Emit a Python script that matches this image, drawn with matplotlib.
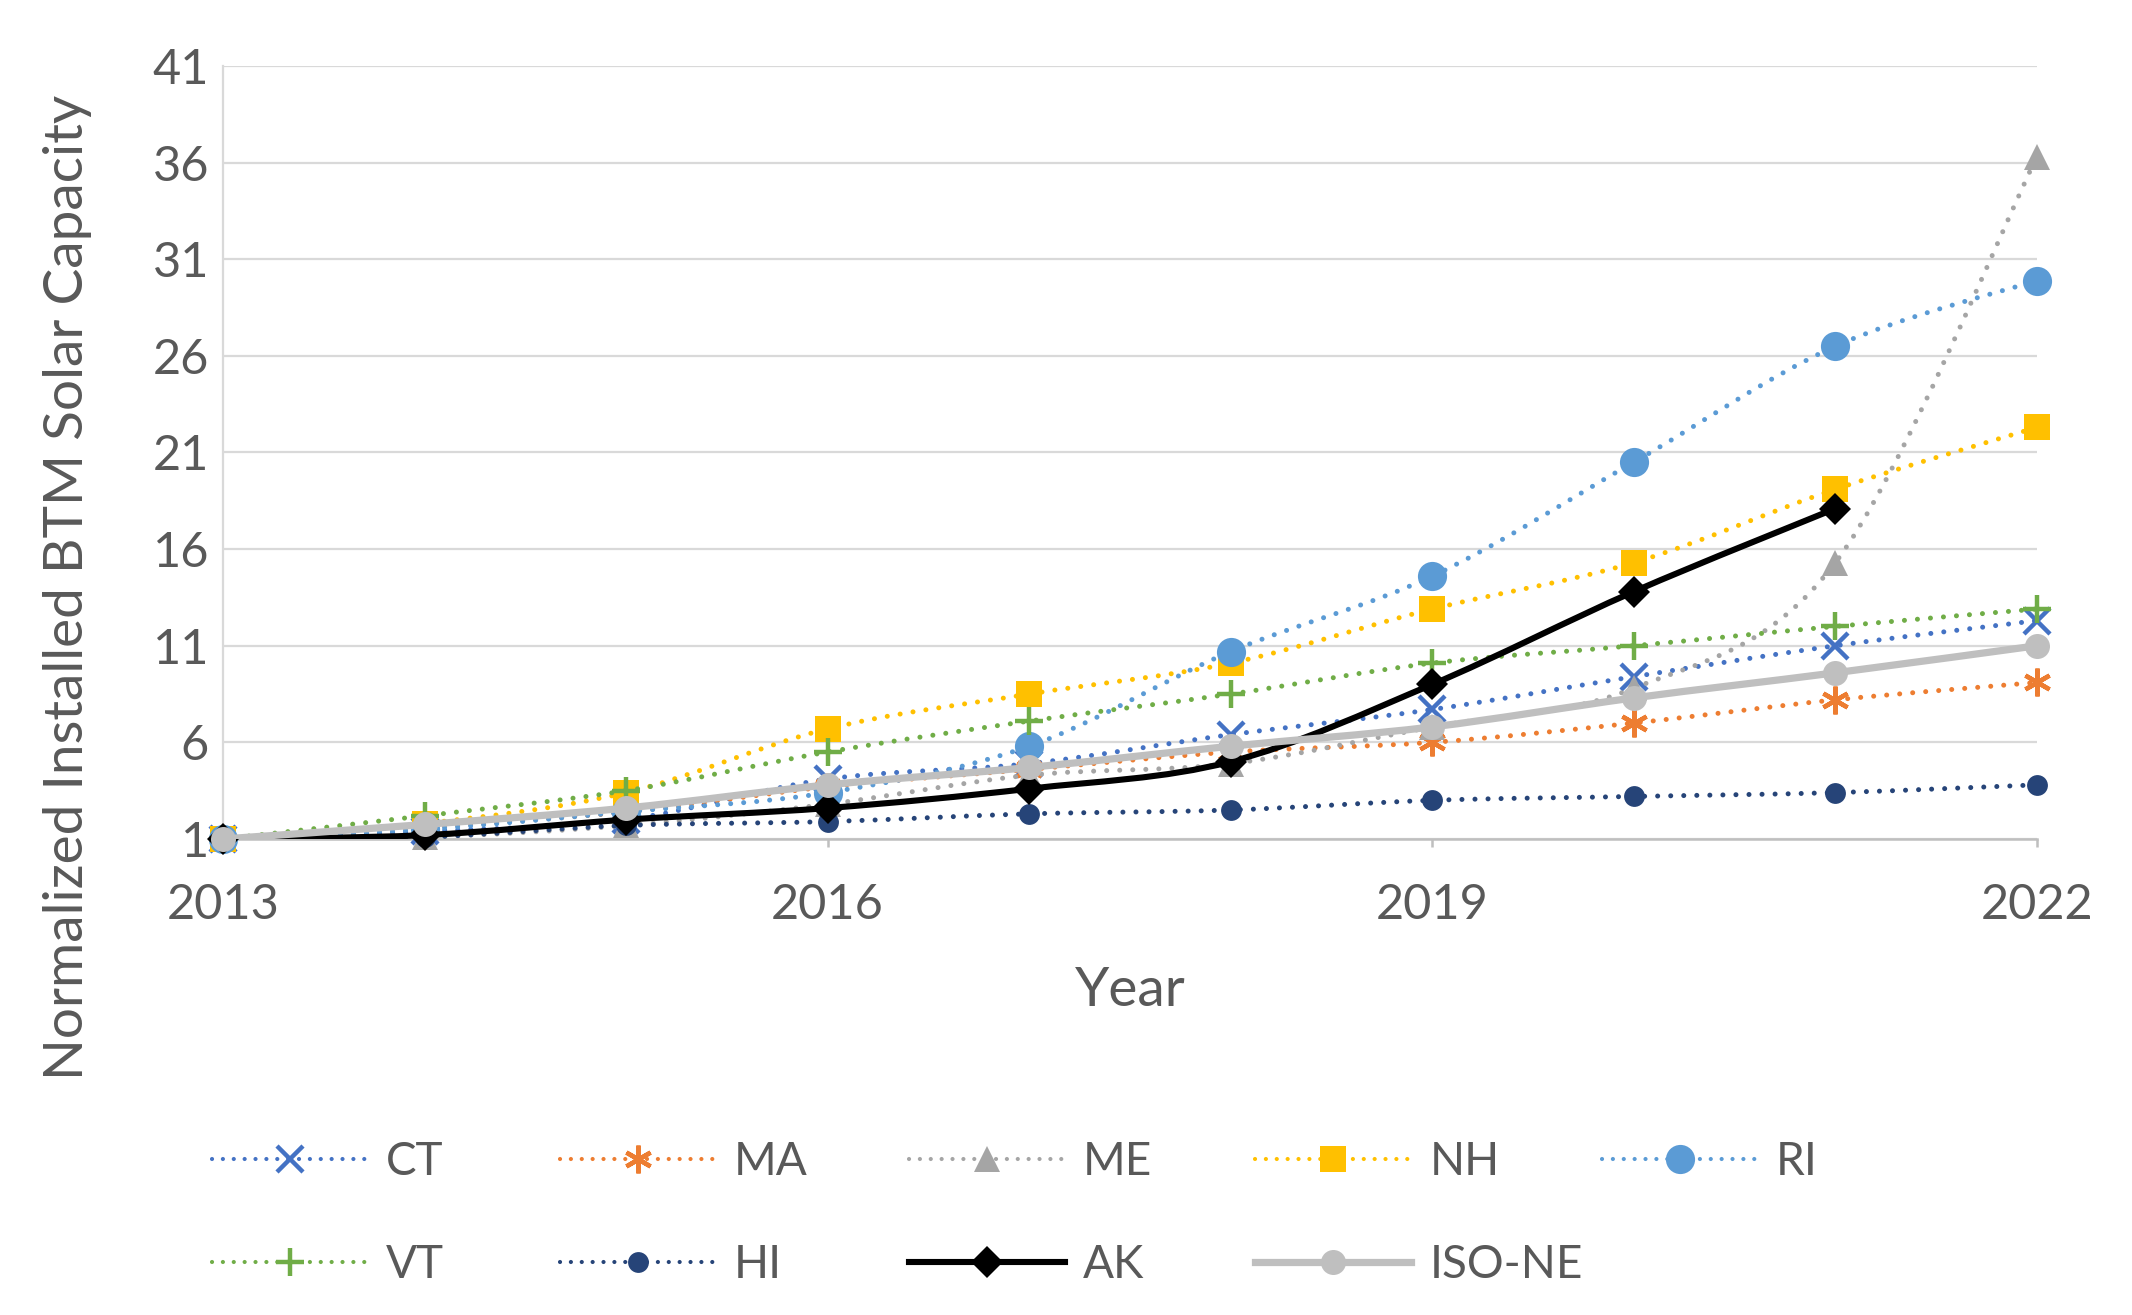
import numpy as np
import matplotlib
matplotlib.use('Agg')
import matplotlib.pyplot as plt
from matplotlib.path import Path
from matplotlib.patches import PathPatch
from matplotlib.lines import Line2D

plt.rcParams['font.family'] = ['Lato', 'DejaVu Sans']

years = list(range(2013, 2023))
ct = [1, 1.4, 2.0, 4.1, 4.9, 6.4, 7.7, 9.4, 11.0, 12.3]
ma = [1, 1.6, 2.4, 3.7, 4.6, 5.5, 6.0, 7.0, 8.2, 9.1]
me = [1, 1.1, 1.7, 2.8, 4.3, 4.9, 6.8, 8.8, 15.3, 36.3]
nh = [1, 1.8, 3.4, 6.7, 8.5, 10.1, 12.9, 15.3, 19.1, 22.3]
ri = [1, 1.5, 2.4, 3.4, 5.8, 10.7, 14.6, 20.5, 26.5, 29.9]
vt = [1, 2.2, 3.5, 5.5, 7.1, 8.5, 10.1, 11.0, 12.0, 12.9]
hi = [1, 1.1, 1.7, 1.9, 2.3, 2.5, 3.0, 3.2, 3.4, 3.8]
ak = [1, 1.2, 2.0, 2.6, 3.6, 5.0, 9.0, 13.8, 18.1, np.nan]   # no 2022 value
iso_ne = [1, 1.75, 2.6, 3.8, 4.7, 5.8, 6.8, 8.3, 9.6, 11.0]

y_ticks = [1, 6, 11, 16, 21, 26, 31, 36, 41]
x_ticks = [2013, 2016, 2019, 2022]

DOT = (0, (0.01, 2.6))   # round dots via round caps
# name, values, color, line width, line style, marker, marker size, marker edge width
series = [
    ('CT', ct, '#4472C4', 1.8, DOT, 'x', 9.5, 1.6),
    ('MA', ma, '#ED7D31', 1.8, DOT, (6, 2, 0), 10, 1.6),
    ('ME', me, '#A5A5A5', 1.8, DOT, '^', 9.5, 0),
    ('NH', nh, '#FFC000', 1.8, DOT, 's', 9.5, 0),
    ('RI', ri, '#5B9BD5', 1.8, DOT, 'o', 10.5, 0),
    ('VT', vt, '#70AD47', 1.8, DOT, '+', 10, 1.6),
    ('HI', hi, '#264478', 1.8, DOT, 'o', 7.5, 0),
    ('AK', ak, '#000000', 2.2, '-', 'D', 8, 0),
    ('ISO-NE', iso_ne, '#BFBFBF', 2.6, '-', 'o', 9, 0),
]


def smooth_path(x, y):
    """Bezier path through the points, Excel 'smoothed line' style."""
    pts = [np.array([a, b], float) for a, b in zip(x, y) if not np.isnan(b)]
    n = len(pts)
    verts = [tuple(pts[0])]
    codes = [Path.MOVETO]
    for i in range(n - 1):
        p0 = pts[max(i - 1, 0)]
        p1 = pts[i]
        p2 = pts[i + 1]
        p3 = pts[min(i + 2, n - 1)]
        c1 = p1 + (p2 - p0) / 6
        c2 = p2 - (p3 - p1) / 6
        verts += [tuple(c1), tuple(c2), tuple(p2)]
        codes += [Path.CURVE4] * 3
    return Path(verts, codes)


fig = plt.figure(figsize=(10.66, 6.575), dpi=200)
ax = fig.add_axes([0.1046, 0.362, 0.8508, 0.5878])

text_color = '#595959'
grid_color = '#D9D9D9'

handles = []
for i, (name, vals, c, lw, ls, mk, ms, mew) in enumerate(series):
    z = 3 + i * 0.1
    patch = PathPatch(smooth_path(years, vals), facecolor='none', edgecolor=c,
                      lw=lw, linestyle=ls, zorder=z,
                      capstyle='round' if ls == DOT else 'butt')
    ax.add_patch(patch)
    ax.plot(years, vals, linestyle='none', marker=mk, markersize=ms,
            color=c, markeredgecolor=c, markeredgewidth=mew, zorder=z + 0.05,
            clip_on=False)
    h = Line2D([], [], color=c, lw=lw if ls == '-' else 1.5, linestyle=ls,
               marker=mk, markersize=ms, markeredgecolor=c, markeredgewidth=mew,
               dash_capstyle='round')
    handles.append(h)

ax.set_xlim(2013, 2022)
ax.set_ylim(1, 41)
ax.set_xticks(x_ticks)
ax.set_yticks(y_ticks)
ax.grid(axis='y', color=grid_color, lw=0.8, zorder=0)
ax.set_axisbelow(True)

for s in ['top', 'right']:
    ax.spines[s].set_visible(False)
ax.spines['left'].set_color(grid_color)
ax.spines['left'].set_linewidth(0.8)
ax.spines['bottom'].set_color('#BFBFBF')
ax.spines['bottom'].set_linewidth(0.9)

ax.tick_params(axis='y', length=0, pad=5, labelsize=17.5, labelcolor=text_color)
ax.tick_params(axis='x', direction='out', length=3, width=0.9, color='#BFBFBF',
               pad=13, labelsize=17.5, labelcolor=text_color)

ax.set_xlabel('Year', fontsize=19.8, color=text_color, labelpad=14)
ax.set_ylabel('Normalized Installed BTM Solar Capacity', fontsize=19.8,
              color=text_color)
ax.yaxis.set_label_coords(-0.072, 0.326)

# legend: two rows of evenly spaced entries, as in the original
col_x = [0.0994, 0.2627, 0.4263, 0.5887, 0.7514]
row_y = [0.1163, 0.038]
for i, h in enumerate(handles):
    r, c = divmod(i, 5)
    fig.legend(handles=[h], labels=[series[i][0]], loc='center left',
               bbox_to_anchor=(col_x[c], row_y[r]), frameon=False,
               borderpad=0, borderaxespad=0, handlelength=3.4,
               handletextpad=0.4, numpoints=1, fontsize=16.5,
               labelcolor=text_color)

fig.savefig('out.png', dpi=200)
